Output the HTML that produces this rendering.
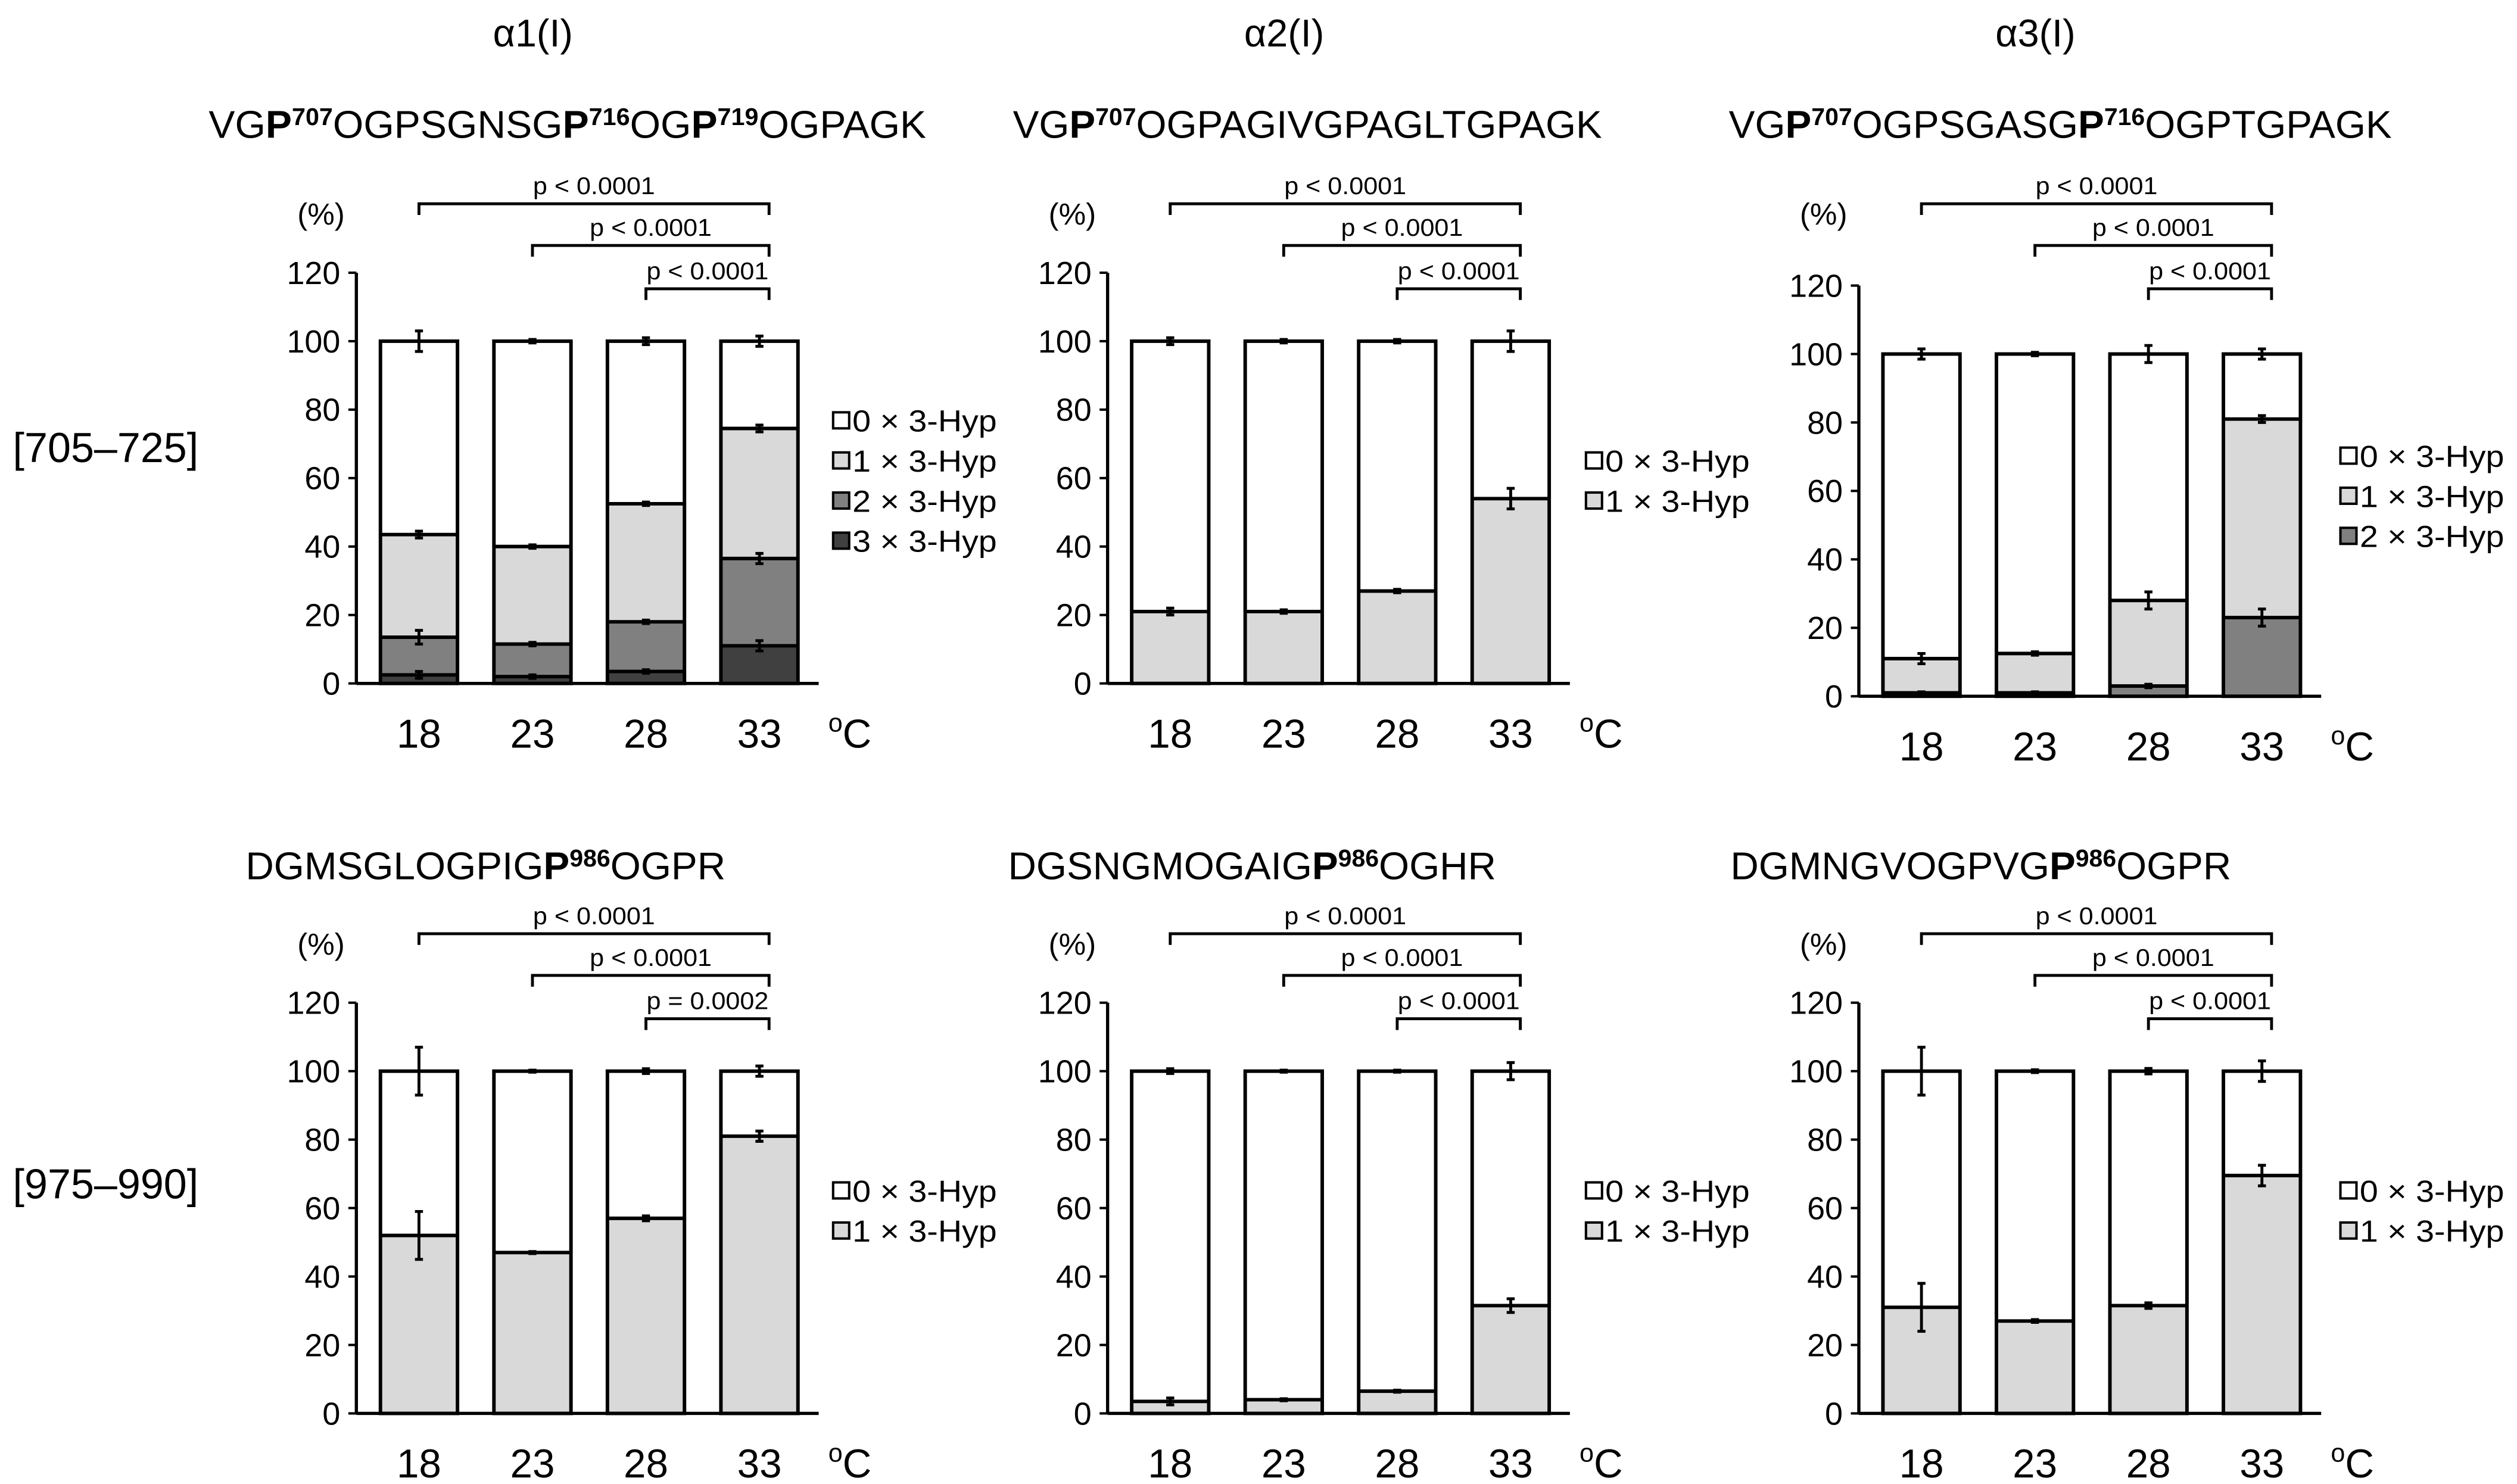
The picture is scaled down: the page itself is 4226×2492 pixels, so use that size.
<!DOCTYPE html>
<html><head><meta charset="utf-8"><style>
html,body{margin:0;padding:0;background:#fff}
svg{display:block}
text{font-family:"Liberation Sans",Arial,sans-serif;fill:#000}
</style></head><body>
<svg id="fig" width="4226" height="2492" viewBox="0 0 1568 925" preserveAspectRatio="none" xmlns="http://www.w3.org/2000/svg">
<g id="static">
<text x="332" y="29" font-size="24" text-anchor="middle">α1(I)</text>
<text x="800" y="29" font-size="24" text-anchor="middle">α2(I)</text>
<text x="1268" y="29" font-size="24" text-anchor="middle">α3(I)</text>
<text x="8" y="288" font-size="26">[705–725]</text>
<text x="8" y="747" font-size="26">[975–990]</text>
<text x="130" y="86" font-size="24" textLength="447" lengthAdjust="spacingAndGlyphs">VG<tspan font-weight="bold">P</tspan><tspan font-size="15" dy="-8" font-weight="bold">707</tspan><tspan dy="8">OGPSGNSG</tspan><tspan font-weight="bold">P</tspan><tspan font-size="15" dy="-8" font-weight="bold">716</tspan><tspan dy="8">OG</tspan><tspan font-weight="bold">P</tspan><tspan font-size="15" dy="-8" font-weight="bold">719</tspan><tspan dy="8">OGPAGK</tspan></text>
<text x="631" y="86" font-size="24" textLength="367" lengthAdjust="spacingAndGlyphs">VG<tspan font-weight="bold">P</tspan><tspan font-size="15" dy="-8" font-weight="bold">707</tspan><tspan dy="8">OGPAGIVGPAGLTGPAGK</tspan></text>
<text x="1077" y="86" font-size="24" textLength="413" lengthAdjust="spacingAndGlyphs">VG<tspan font-weight="bold">P</tspan><tspan font-size="15" dy="-8" font-weight="bold">707</tspan><tspan dy="8">OGPSGASG</tspan><tspan font-weight="bold">P</tspan><tspan font-size="15" dy="-8" font-weight="bold">716</tspan><tspan dy="8">OGPTGPAGK</tspan></text>
<text x="153" y="548" font-size="24" textLength="299" lengthAdjust="spacingAndGlyphs">DGMSGLOGPIG<tspan font-weight="bold">P</tspan><tspan font-size="15" dy="-8" font-weight="bold">986</tspan><tspan dy="8">OGPR</tspan></text>
<text x="628" y="548" font-size="24" textLength="304" lengthAdjust="spacingAndGlyphs">DGSNGMOGAIG<tspan font-weight="bold">P</tspan><tspan font-size="15" dy="-8" font-weight="bold">986</tspan><tspan dy="8">OGHR</tspan></text>
<text x="1078" y="548" font-size="24" textLength="312" lengthAdjust="spacingAndGlyphs">DGMNGVOGPVG<tspan font-weight="bold">P</tspan><tspan font-size="15" dy="-8" font-weight="bold">986</tspan><tspan dy="8">OGPR</tspan></text>
</g>
</svg>
<script>
// ---- data ----
const categories = ["18","23","28","33"];
const legendLabels = ["0 × 3-Hyp","1 × 3-Hyp","2 × 3-Hyp","3 × 3-Hyp"];
const yTicks = [0,20,40,60,80,100,120];
const pLabelsA = ["p < 0.0001","p < 0.0001","p < 0.0001"];
const pLabelsB = ["p < 0.0001","p < 0.0001","p = 0.0002"];
// segment values, bottom-up (highest Hyp count first), 0x = remainder to 100
const tl3 = [2.5,2,3.5,11];
const tl2 = [11,9.5,14.5,25.5];
const tl1 = [30,28.5,34.5,38];
const tlErr = [[1,0.5,0.5,1.5],[2,0.5,0.5,1.5],[1,0.5,0.5,1],[3,0.5,1,1.5]];
const tm1 = [21,21,27,54];
const tmErr = [[1,0.5,0.5,3],[1,0.5,0.5,3]];
const tr2 = [1,1,3,23];
const tr1 = [10,11.5,25,58];
const trErr = [[0.3,0.3,0.5,2.5],[1.5,0.5,2.5,1],[1.5,0.5,2.5,1.5]];
const bl1 = [52,47,57,81];
const blErr = [[7,0.3,0.7,1.5],[7,0.3,0.7,1.5]];
const bm1 = [3.5,4,6.5,31.5];
const bmErr = [[1,0.3,0.3,2],[0.7,0.3,0.3,2.5]];
const br1 = [31,27,31.5,69.5];
const brErr = [[7,0.4,0.8,3],[7,0.4,0.8,3]];
const fills = ["#ffffff","#d9d9d9","#808080","#404040"];

const NS="http://www.w3.org/2000/svg";
const svg=document.getElementById('fig');
function mk(tag,attrs,parent){const e=document.createElementNS(NS,tag);for(const k in attrs)e.setAttribute(k,attrs[k]);(parent||svg).appendChild(e);return e;}

function chart(name,axX,y0,segs,errs,legX,legY,pLabels,topY){
  const g=mk('g',{});
  
  
  const y120=y0-256;
  const ys=v=>y0-v/120*256;
  const xs=i=>axX+39+i*70.7;
  const bw=48;
  const ax=mk('line',{x1:axX,y1:y120,x2:axX,y2:y0,stroke:'#000','stroke-width':2},g);
  
  
  yTicks.forEach(t=>{
    mk('line',{x1:axX-5,y1:ys(t),x2:axX,y2:ys(t),stroke:'#000','stroke-width':1.5},g);
    const tx=mk('text',{x:axX-10,y:ys(t)+7,'font-size':20,'text-anchor':'end'},g);
    tx.textContent=t;
    
    
  });
  const xa=mk('line',{x1:axX,y1:y0,x2:axX+288,y2:y0,stroke:'#000','stroke-width':2},g);
  
  
  const pc=mk('text',{x:axX-22,y:topY+13,'font-size':19,'text-anchor':'middle'},g);
  pc.textContent='(%)';
  
  
  categories.forEach((c,i)=>{
    const t=mk('text',{x:xs(i),y:y0+40,'font-size':25,'text-anchor':'middle'},g);
    t.textContent=c;
    
    
  });
  const oc=mk('text',{x:axX+294,y:y0+40,'font-size':25},g);
  oc.innerHTML='<tspan font-size="16" dy="-10">o</tspan><tspan dy="10">C</tspan>';
  
  
  const n=segs.length;
  categories.forEach((c,i)=>{
    let cum=0;const tops=[];
    for(let s=0;s<n;s++){
      const v=segs[s][i];
      const r=mk('rect',{x:xs(i)-bw/2,y:ys(cum+v),width:bw,height:ys(cum)-ys(cum+v),fill:fills[n-s],stroke:'#000','stroke-width':1.5},g);
      
      
      cum+=v;tops.push(cum);
    }
    const r0=mk('rect',{x:xs(i)-bw/2,y:ys(100),width:bw,height:ys(cum)-ys(100),fill:fills[0],stroke:'#000','stroke-width':1.5},g);
    
    
    tops.push(100);
    mk('rect',{x:xs(i)-bw/2,y:ys(100),width:bw,height:ys(0)-ys(100),fill:'none',stroke:'#000','stroke-width':2.2},g);
    tops.forEach((tp,k)=>{
      if(k<tops.length-1) mk('line',{x1:xs(i)-bw/2,y1:ys(tp),x2:xs(i)+bw/2,y2:ys(tp),stroke:'#000','stroke-width':2.2},g);
      const e=errs[k][i];
      const eb=mk('path',{d:`M${xs(i)},${ys(tp+e)}V${ys(tp-e)}M${xs(i)-2.5},${ys(tp+e)}h5M${xs(i)-2.5},${ys(tp-e)}h5`,stroke:'#000','stroke-width':1.8,fill:'none'},g);
      
      
    });
  });
  for(let k=0;k<=n;k++){
    const ly=legY+k*25;
    const b=mk('rect',{x:legX,y:ly-11,width:10,height:10,fill:fills[k],stroke:'#000','stroke-width':1.5},g);
    
    
    const t=mk('text',{x:legX+12,y:ly+1,'font-size':19,textLength:90,lengthAdjust:'spacingAndGlyphs'},g);
    t.textContent=legendLabels[k];
    
    
  }
  const starts=[0,1,2];const by=[topY,topY+26,topY+53];
  starts.forEach((s,k)=>{
    const x1=xs(s),x2=xs(3)+6;
    const br=mk('path',{d:`M${x1},${by[k]+7}V${by[k]}H${x2}V${by[k]+7}`,stroke:'#000','stroke-width':1.8,fill:'none'},g);
    
    
    const t=mk('text',{x:(x1+x2)/2,y:by[k]-6,'font-size':15,'text-anchor':'middle',textLength:76,lengthAdjust:'spacingAndGlyphs'},g);
    t.textContent=pLabels[k];
    
    
  });
}
chart('chart-a1-705',222,426,[tl3,tl2,tl1],tlErr,519,268,pLabelsA,127);
chart('chart-a2-705',690,426,[tm1],tmErr,988,293,pLabelsA,127);
chart('chart-a3-705',1158,434,[tr2,tr1],trErr,1458,290,pLabelsA,127);
chart('chart-a1-975',222,881,[bl1],blErr,519,748,pLabelsB,582);
chart('chart-a2-975',690,881,[bm1],bmErr,988,748,pLabelsA,582);
chart('chart-a3-975',1158,881,[br1],brErr,1458,748,pLabelsA,582);
</script>
</body></html>
